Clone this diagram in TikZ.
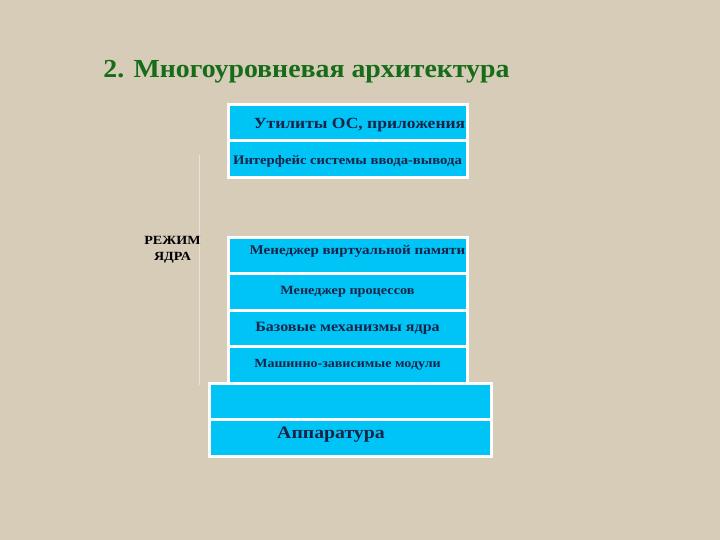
\documentclass[tikz,border=0pt]{standalone}
\usepackage{fontspec}
\setmainfont{Liberation Serif}
\newfontfamily\layerfont[FakeStretch=1.13]{Liberation Serif}
\newfontfamily\titlefont[FakeStretch=1.07]{Liberation Serif}
\usetikzlibrary{positioning}

\definecolor{canvas}{RGB}{214,204,184}
\definecolor{layercyan}{RGB}{0,196,246}
\definecolor{layerink}{RGB}{22,36,72}
\definecolor{titlegreen}{RGB}{22,108,24}

\newcommand\lsize[1]{\layerfont\bfseries\fontsize{#1}{#1}\selectfont}
% move text up or down without changing the node
\newcommand\txtshift[2]{\raisebox{#1}[\height][\depth]{#2}}

\begin{document}
\begin{tikzpicture}[x=1pt,y=-1pt,
  layer/.style={ rectangle, fill=layercyan, draw=white, line width=3pt
               , outer sep=0pt, inner sep=0pt
               , minimum width=\bw, minimum height=\bh
               , text=layerink, font=\lsize{13} },
  wide/.style={ layer, minimum width=\bww }]
  \def\bw{239pt}
  \def\bww{282pt}
  \def\bh{36.5pt}

  \fill[canvas] (0,0) rectangle (720,540);

  \node[text=titlegreen, font=\titlefont\bfseries\fontsize{26}{30}\selectfont]
    (title) at (306.5,72) {2. Многоуровневая архитектура};

  % user part
  \node[layer, font=\lsize{15.5}] (util) at (347.5,122.5)
    {\hspace*{24pt}\txtshift{-3pt}{Утилиты ОС, приложения}};
  \node[layer, below=0 of util] (io)
    {\txtshift{-2pt}{Интерфейс системы ввода-вывода}};

  % kernel part
  \node[layer, font=\lsize{13.3}] (vmem) at (347.5,255.5)
    {\hspace*{20pt}\txtshift{4pt}{Менеджер виртуальной памяти}};
  \node[layer, below=0 of vmem, font=\lsize{12.6}] (proc)
    {Менеджер процессов};
  \node[layer, below=0 of proc, font=\lsize{14.2}] (base)
    {Базовые механизмы ядра};
  \node[layer, below=0 of base, font=\lsize{12.4}] (mdep) {Машинно-зависимые модули};

  % hardware
  \node[wide, below=0 of mdep, xshift=2.5pt] (spare) {};
  \node[wide, below=0 of spare, font=\lsize{17.5}] (hw)
    {\txtshift{3pt}{Аппаратура}\hspace*{38pt}};

  \node[align=center, font=\layerfont\bfseries\fontsize{12.5}{16}\selectfont]
    (kmode) at (172.5,250) {РЕЖИМ\\ЯДРА};

  \coordinate (mtop) at (199,155);
  \coordinate (mbot) at (199,385);
  \draw[white, opacity=.45, line width=1pt] (mtop) -- (mbot);
\end{tikzpicture}
\end{document}
